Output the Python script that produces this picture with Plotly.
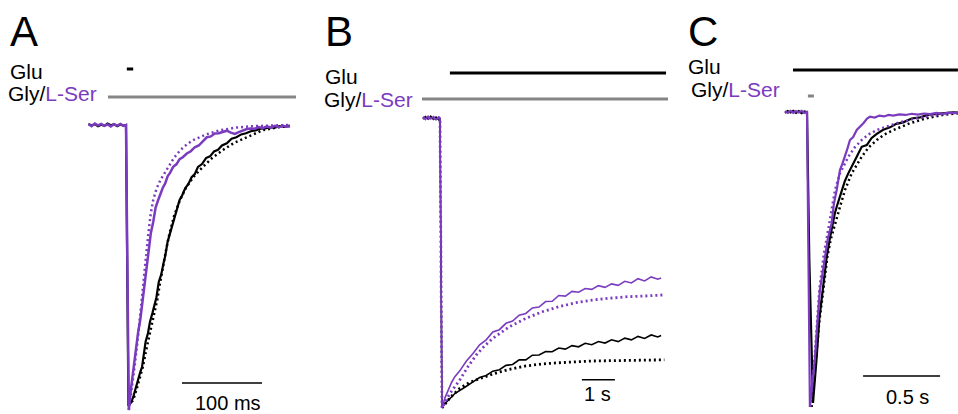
import plotly.graph_objects as go

W, H = 958, 414
PURPLE = "#7a3bbf"
GRAY = "#858585"
FONT = "Liberation Sans, Arial, sans-serif"

# ---------------- Panel A (time in ms, current normalised to peak) ----------------
a_pur_t = [-47, -43, -39, -35, -31, -27, -23, -19, -15, -11, -7, -3, 0, 1.5, 3.5,
           6, 9, 12, 15, 18, 21, 24, 26, 28.5, 31, 34, 37, 40, 43, 46, 49, 52, 55, 59, 63,
           67, 71, 76, 81, 86, 91, 96, 101, 106, 111, 116, 121, 126, 131, 136, 141, 146, 151,
           156, 161, 166, 171, 176, 181, 186, 191, 196, 200, 205]
a_pur_i = [0.003, -0.004, 0.005, -0.001, 0.004, -0.003, 0.002, -0.005, 0.003, -0.002, 0.004, -0.003, 0.0, -0.55, -1.0,
           -0.93, -0.86, -0.80, -0.73, -0.68, -0.61, -0.56, -0.50, -0.45, -0.38, -0.34, -0.29, -0.265, -0.24, -0.22,
           -0.205, -0.18, -0.168, -0.147, -0.138, -0.12, -0.113, -0.10, -0.092, -0.078, -0.072, -0.056, -0.043,
           -0.040, -0.030, -0.029, -0.024, -0.020, -0.027, -0.031, -0.025, -0.019, -0.014, -0.012, -0.013,
           -0.007, -0.011, -0.005, -0.009, -0.003, -0.008, -0.002, -0.006, -0.004]
a_blk_t = [-47, -43, -39, -35, -31, -27, -23, -19, -15, -11, -7, -3, 0, 1.5, 3,
           6, 9, 11.5, 14, 16, 18, 20, 22, 24.5, 27.5, 30, 33, 35.5, 38, 41, 44, 46.5, 49, 52, 55,
           58, 61, 64, 67, 70, 74, 78, 82, 86, 90, 95, 100, 105, 110, 115, 120, 126, 132, 138, 144,
           150, 156, 162, 168, 174, 180, 186, 192, 198, 205]
a_blk_i = [0.004, -0.002, 0.003, -0.004, 0.001, -0.003, 0.005, -0.001, 0.003, -0.004, 0.002, -0.003, 0.0, -0.5, -0.985,
           -0.975, -0.955, -0.93, -0.905, -0.88, -0.865, -0.85, -0.80, -0.76, -0.73, -0.69, -0.66, -0.63, -0.605,
           -0.55, -0.525, -0.49, -0.46, -0.41, -0.38, -0.345, -0.318, -0.29, -0.263, -0.248, -0.222, -0.207,
           -0.183, -0.172, -0.147, -0.137, -0.116, -0.110, -0.093, -0.087, -0.072, -0.064, -0.048, -0.043,
           -0.033, -0.029, -0.022, -0.019, -0.013, -0.012, -0.008, -0.009, -0.004, -0.006, -0.003]
a_blk_fit_t = [3, 9, 15, 21, 26, 30, 34.5, 39, 42.5, 46, 50, 54, 60, 67.5, 75, 85, 96, 108, 121, 135, 151, 171, 192, 205]
a_blk_fit_i = [-0.985, -0.965, -0.91, -0.849, -0.78, -0.73, -0.67, -0.614, -0.555, -0.498, -0.44, -0.385, -0.32,
               -0.263, -0.22, -0.18, -0.147, -0.115, -0.088, -0.063, -0.042, -0.018, -0.007, -0.003]
a_pur_fit_t = [3.5, 7, 11, 15.5, 20, 24, 28, 31, 34, 38, 43, 48, 53, 60, 68, 76, 84, 100, 118, 138, 159, 180, 205]
a_pur_fit_i = [-1.0, -0.93, -0.842, -0.73, -0.614, -0.49, -0.379, -0.31, -0.263, -0.225, -0.193, -0.168, -0.147,
               -0.115, -0.088, -0.068, -0.053, -0.033, -0.018, -0.009, -0.004, -0.002, 0.0]
a_glu = [1, 9]
a_gly = [-22.5, 212.5]
a_scale = [70, 170]
a_scale_level = -0.905

# ---------------- Panel B (time in s) ----------------
b_t = [-0.52, -0.44, -0.36, -0.28, -0.20, -0.12, -0.04, 0.0, 0.03, 0.06, 0.15, 0.25, 0.35, 0.45,
       0.6, 0.8, 1.0, 1.2, 1.4, 1.6, 1.8, 2.0, 2.2, 2.4, 2.6, 2.8, 3.0, 3.2, 3.4, 3.6, 3.8, 4.0,
       4.2, 4.4, 4.6, 4.8, 5.0, 5.2, 5.4, 5.6, 5.8, 6.0, 6.2, 6.4, 6.6, 6.7]
b_pur_i = [0.004, -0.005, 0.006, -0.003, 0.005, -0.006, 0.003, 0.0, -0.5, -1.0, -0.965, -0.935, -0.912, -0.892,
           -0.872, -0.838, -0.812, -0.782, -0.765, -0.738, -0.730, -0.708, -0.700, -0.680, -0.674, -0.655,
           -0.652, -0.633, -0.632, -0.612, -0.614, -0.598, -0.601, -0.588, -0.591, -0.578, -0.584, -0.572,
           -0.577, -0.563, -0.569, -0.554, -0.562, -0.548, -0.556, -0.552]
b_blk_i = [-0.003, 0.005, -0.004, 0.006, -0.005, 0.003, -0.006, 0.0, -0.5, -0.99, -0.985, -0.975, -0.962, -0.950,
           -0.940, -0.925, -0.910, -0.895, -0.888, -0.873, -0.868, -0.853, -0.850, -0.834, -0.834, -0.818,
           -0.817, -0.805, -0.806, -0.793, -0.797, -0.785, -0.789, -0.777, -0.782, -0.771, -0.776, -0.765,
           -0.771, -0.759, -0.765, -0.753, -0.760, -0.748, -0.755, -0.750]
b_blk_fit_t = [0.06, 0.3, 0.6, 0.9, 1.1, 1.4, 1.6, 1.9, 2.1, 2.6, 3.1, 3.6, 4.1, 4.6, 5.1, 5.7, 6.2, 6.8]
b_blk_fit_i = [-1.0, -0.965, -0.932, -0.912, -0.903, -0.89, -0.883, -0.873, -0.867, -0.855, -0.848, -0.844,
               -0.840, -0.838, -0.837, -0.836, -0.835, -0.834]
b_pur_fit_t = [-0.52, -0.3, -0.1, 0.0, 0.03, 0.06, 0.3, 0.6, 0.85, 1.1, 1.35, 1.6, 2.1, 2.6, 3.1, 3.6, 4.1,
               4.6, 5.1, 5.7, 6.2, 6.8]
b_pur_fit_i = [0.0, 0.0, 0.0, 0.0, -0.5, -1.0, -0.95, -0.903, -0.857, -0.817, -0.786, -0.760, -0.720, -0.691,
               -0.668, -0.651, -0.637, -0.628, -0.622, -0.616, -0.614, -0.610]
b_glu = [0.30, 6.85]
b_gly = [-0.545, 6.91]
b_scale = [4.30, 5.30]
b_scale_level = -0.903

# ---------------- Panel C (time in s) ----------------
c_pur_t = [-0.143, -0.125, -0.107, -0.089, -0.071, -0.053, -0.035, -0.017, 0.0, 0.01, 0.019, 0.035, 0.052,
           0.068, 0.084, 0.1, 0.117, 0.135, 0.16, 0.175, 0.193, 0.205, 0.214, 0.23, 0.247, 0.262, 0.279,
           0.3, 0.323, 0.345, 0.366, 0.39, 0.409, 0.44, 0.47, 0.5, 0.53, 0.56, 0.6, 0.64, 0.68, 0.72,
           0.76, 0.8, 0.84, 0.88, 0.92, 0.96, 0.985]
c_pur_i = [0.003, -0.003, 0.004, -0.003, 0.003, -0.002, 0.004, -0.003, 0.0, -0.5, -1.0, -0.92, -0.83, -0.71,
           -0.603, -0.55, -0.491, -0.43, -0.377, -0.31, -0.264, -0.225, -0.197, -0.175, -0.152, -0.125,
           -0.095, -0.085, -0.061, -0.050, -0.038, -0.022, -0.016, -0.019, -0.012, -0.015, -0.010, -0.012,
           -0.008, -0.010, -0.006, -0.009, -0.005, -0.007, -0.003, -0.006, -0.002, -0.004, -0.002]
c_blk_t = [-0.143, -0.125, -0.107, -0.089, -0.071, -0.053, -0.035, -0.017, 0.0, 0.015, 0.039, 0.05, 0.063,
           0.08, 0.102, 0.115, 0.128, 0.148, 0.167, 0.18, 0.193, 0.21, 0.225, 0.245, 0.268, 0.295, 0.323,
           0.355, 0.388, 0.42, 0.453, 0.495, 0.539, 0.58, 0.625, 0.68, 0.734, 0.79, 0.842, 0.9, 0.95, 0.985]
c_blk_i = [-0.003, 0.003, -0.002, 0.004, -0.003, 0.003, -0.004, 0.002, 0.0, -0.5, -0.986, -0.92, -0.830,
           -0.70, -0.603, -0.54, -0.491, -0.43, -0.377, -0.345, -0.321, -0.29, -0.264, -0.235, -0.208,
           -0.178, -0.152, -0.118, -0.112, -0.088, -0.074, -0.060, -0.052, -0.040, -0.035, -0.022, -0.018,
           -0.009, -0.006, -0.005, -0.001, -0.002]
c_blk_fit_t = [0.03, 0.058, 0.08, 0.106, 0.132, 0.155, 0.182, 0.215, 0.247, 0.29, 0.355, 0.4, 0.453, 0.5,
               0.561, 0.669, 0.777, 0.88, 0.985]
c_blk_fit_i = [-1.0, -0.83, -0.71, -0.603, -0.491, -0.43, -0.377, -0.32, -0.264, -0.208, -0.152, -0.12,
               -0.095, -0.077, -0.061, -0.038, -0.021, -0.01, -0.004]
c_pur_fit_t = [0.02, 0.05, 0.08, 0.11, 0.145, 0.165, 0.182, 0.214, 0.268, 0.31, 0.355, 0.4, 0.453, 0.582,
               0.712, 0.842, 0.985]
c_pur_fit_i = [-1.0, -0.83, -0.603, -0.48, -0.377, -0.31, -0.264, -0.208, -0.152, -0.12, -0.095, -0.076,
               -0.061, -0.038, -0.021, -0.010, -0.001]
c_glu = [-0.091, 0.98]
c_gly = [0.006, 0.045]
c_scale = [0.364, 0.864]
c_scale_level = -0.895

scale_labels = ["100 ms", "1 s", "0.5 s"]
panel_labels = ["A", "B", "C"]


def fx(p):
    return p / W


def fy(p):
    return 1 - p / H


fig = go.Figure()

DOT = "2px,3px"


def add(t, i, color, width, dash, n):
    fig.add_trace(go.Scatter(
        x=t, y=i, mode="lines",
        line=dict(color=color, width=width, dash=dash),
        xaxis="x" if n == 1 else f"x{n}", yaxis="y" if n == 1 else f"y{n}",
        hoverinfo="skip", showlegend=False))


# Panel A
add(a_blk_t, a_blk_i, "black", 2.2, "solid", 1)
add(a_blk_fit_t, a_blk_fit_i, "black", 2.5, DOT, 1)
add(a_pur_t, a_pur_i, PURPLE, 2.5, "solid", 1)
add(a_pur_fit_t, a_pur_fit_i, PURPLE, 2.5, DOT, 1)
# Panel B
add(b_t, b_blk_i, "black", 1.6, "solid", 2)
add(b_blk_fit_t, b_blk_fit_i, "black", 2.8, DOT, 2)
add(b_t, b_pur_i, PURPLE, 1.6, "solid", 2)
add(b_pur_fit_t, b_pur_fit_i, PURPLE, 2.8, DOT, 2)
# Panel C
add(c_blk_t, c_blk_i, "black", 2.2, "solid", 3)
add(c_blk_fit_t, c_blk_fit_i, "black", 2.5, DOT, 3)
add(c_pur_t, c_pur_i, PURPLE, 2.2, "solid", 3)
add(c_pur_fit_t, c_pur_fit_i, PURPLE, 2.5, DOT, 3)

ax = dict(visible=False, showgrid=False, zeroline=False, fixedrange=True)
fig.update_layout(
    width=W, height=H, margin=dict(l=0, r=0, t=0, b=0),
    paper_bgcolor="white", plot_bgcolor="white", showlegend=False,
    xaxis=dict(ax, domain=[fx(85), fx(300)], range=[-51.25, 217.5]),
    yaxis=dict(ax, domain=[0, 1], range=[-1.014, 0.4386], anchor="x"),
    xaxis2=dict(ax, domain=[fx(420), fx(670)], range=[-0.606, 6.970], anchor="y2"),
    yaxis2=dict(ax, domain=[0, 1], range=[-1.0207, 0.4069], anchor="x2"),
    xaxis3=dict(ax, domain=[fx(780), 1.0], range=[-0.1753, 0.9805], anchor="y3"),
    yaxis3=dict(ax, domain=[0, 1], range=[-1.0237, 0.3797], anchor="x3"),
)

shapes = []


def bar(xr, n, py, color, width=3):
    shapes.append(dict(type="line", xref="x" if n == 1 else f"x{n}", yref="paper",
                       x0=xr[0], x1=xr[1], y0=fy(py), y1=fy(py),
                       line=dict(color=color, width=width)))


def scalebar(xr, level, n):
    shapes.append(dict(type="line", xref="x" if n == 1 else f"x{n}", yref="y" if n == 1 else f"y{n}",
                       x0=xr[0], x1=xr[1], y0=level, y1=level,
                       line=dict(color="black", width=1.5)))


bar(a_glu, 1, 69, "black")
bar(a_gly, 1, 97, GRAY)
bar(b_glu, 2, 73, "black")
bar(b_gly, 2, 99, GRAY)
bar(c_glu, 3, 70, "black")
bar(c_gly, 3, 96, GRAY)
scalebar(a_scale, a_scale_level, 1)
scalebar(b_scale, b_scale_level, 2)
scalebar(c_scale, c_scale_level, 3)
fig.update_layout(shapes=shapes)

ann = []


def text(s, px, py, size, xanchor="left"):
    ann.append(dict(text=s, x=fx(px), y=fy(py), xref="paper", yref="paper",
                    xanchor=xanchor, yanchor="middle", showarrow=False,
                    font=dict(family=FONT, size=size, color="black")))


gly = "Gly/<span style='color:%s'>L-Ser</span>" % PURPLE
for lab, px in zip(panel_labels, [8, 323, 686]):
    text(lab, px, 31, 42)
text("Glu", 8, 71, 21)
text(gly, 6, 93, 21)
text("Glu", 323, 76, 21)
text(gly, 322, 100, 21)
text("Glu", 686, 66, 21)
text(gly, 689, 90, 21)
text(scale_labels[0], 228, 403, 20, "center")
text(scale_labels[1], 597, 394, 20, "center")
text(scale_labels[2], 907, 397, 20, "center")
fig.update_layout(annotations=ann)

fig.write_html("out.html", config={"displayModeBar": False},
               post_script="document.body.style.margin='0px';")
